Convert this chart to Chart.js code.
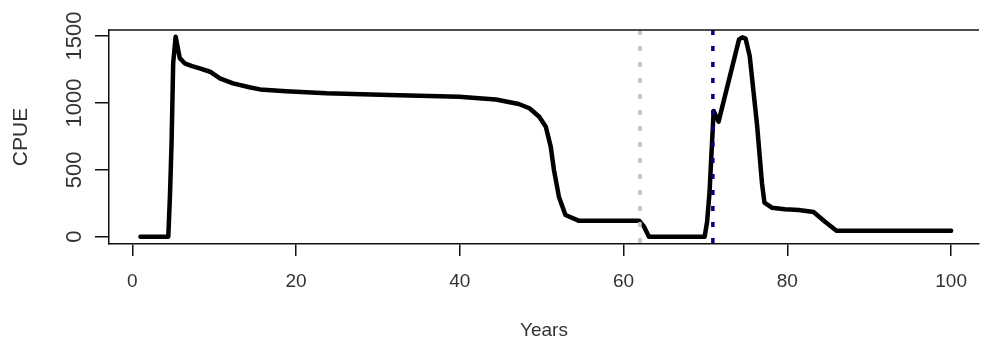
<!DOCTYPE html>
<html>
<head>
<meta charset="utf-8">
<title>CPUE</title>
<script src="https://cdn.jsdelivr.net/npm/chart.js@4.4.0/dist/chart.umd.min.js"></script>
<style>
  body { margin: 0; background: #fff; }
</style>
</head>
<body>
<canvas id="cpueChart" width="981" height="347"></canvas>
<script>
// values
const years = [1, 4.4, 4.6, 4.8, 5.0, 5.3, 5.8, 6.4, 7.3, 8.25, 9.5, 10.7, 12.3, 14.3, 15.6, 18.8,
  23.7, 31.4, 39.9, 44.4, 47.2, 48.5, 49.7, 50.5, 51.1, 51.5, 52.1, 52.9, 54.5, 61.9, 62.5, 63.1,
  69.9, 70.2, 70.5, 70.7, 71.0, 71.6, 74.1, 74.5, 74.9, 75.4, 76.3, 76.9, 77.2, 78.1, 79.7, 81.4,
  83.2, 84.6, 86.0, 100];
const cpue = [0, 0, 300, 700, 1300, 1495, 1335, 1296, 1275, 1258, 1233, 1184, 1146, 1117, 1101, 1087,
  1072, 1059, 1046, 1025, 992, 960, 897, 822, 673, 498, 299, 162, 120, 120, 75, 0,
  0, 112, 336, 586, 940, 860, 1475, 1490, 1480, 1350, 835, 400, 255, 217, 205, 200,
  185, 112, 45, 45];
const xTicks = [0, 20, 40, 60, 80, 100];
const yTicks = [0, 500, 1000, 1500];
const markerYears = [62, 70.9];
const markerColors = ['#c4c4c4', '#000080'];

const fontFamily = '"Liberation Sans", Arial, sans-serif';
const textColor = '#333';

// rotated y labels, top border and the two dotted year markers
const extras = {
  id: 'extras',
  afterDatasetsDraw(chart) {
    const ctx = chart.ctx;
    const area = chart.chartArea;
    const x = chart.scales.x;
    const y = chart.scales.y;
    ctx.save();

    markerYears.forEach(function(yr, i) {
      const px = x.getPixelForValue(yr);
      ctx.strokeStyle = markerColors[i];
      ctx.lineWidth = 3.5;
      ctx.setLineDash([5, 11]);
      ctx.beginPath();
      ctx.moveTo(px, area.top);
      ctx.lineTo(px, area.bottom);
      ctx.stroke();
    });
    ctx.setLineDash([]);

    ctx.strokeStyle = '#111';
    ctx.lineWidth = 1.5;
    ctx.beginPath();
    ctx.moveTo(area.left, area.top);
    ctx.lineTo(area.right, area.top);
    ctx.stroke();

    ctx.fillStyle = textColor;
    ctx.textAlign = 'center';
    ctx.textBaseline = 'middle';
    ctx.font = '22px ' + fontFamily;
    yTicks.forEach(function(v) {
      ctx.save();
      ctx.translate(75, y.getPixelForValue(v));
      ctx.rotate(-Math.PI / 2);
      ctx.fillText(String(v), 0, 0);
      ctx.restore();
    });

    ctx.font = '21px ' + fontFamily;
    ctx.save();
    ctx.translate(21, (area.top + area.bottom) / 2);
    ctx.rotate(-Math.PI / 2);
    ctx.fillText('CPUE', 0, 0);
    ctx.restore();

    ctx.restore();
  }
};

new Chart(document.getElementById('cpueChart'), {
  type: 'line',
  data: {
    datasets: [{
      data: years.map((yr, i) => ({ x: yr, y: cpue[i] })),
      borderColor: '#000',
      borderWidth: 4.5,
      borderJoinStyle: 'round',
      borderCapStyle: 'round',
      pointRadius: 0,
      tension: 0,
      fill: false
    }]
  },
  options: {
    responsive: false,
    animation: false,
    layout: { padding: { left: 0, top: 30, right: 0, bottom: 0 } },
    plugins: { legend: { display: false }, tooltip: { enabled: false } },
    scales: {
      x: {
        type: 'linear',
        min: -2.84,
        max: 103.4,
        afterBuildTicks: s => { s.ticks = xTicks.map(v => ({ value: v })); },
        afterFit: s => { s.height = 103; },
        grid: { drawOnChartArea: false, drawTicks: true, tickLength: 12, color: '#111', lineWidth: 1.5 },
        border: { display: true, color: '#111', width: 1.5 },
        ticks: { color: textColor, font: { size: 19, family: fontFamily }, padding: 14, maxRotation: 0, autoSkip: false },
        title: { display: true, text: 'Years', color: textColor, font: { size: 19, family: fontFamily }, padding: { top: 0, bottom: 5 } }
      },
      y: {
        type: 'linear',
        min: -54.6,
        max: 1545,
        afterBuildTicks: s => { s.ticks = yTicks.map(v => ({ value: v })); },
        afterFit: s => { s.width = 109; },
        grid: { drawOnChartArea: false, drawTicks: true, tickLength: 14, color: '#111', lineWidth: 1.5 },
        border: { display: true, color: '#111', width: 1.5 },
        ticks: { display: false }
      }
    }
  },
  plugins: [extras]
});
</script>
</body>
</html>
